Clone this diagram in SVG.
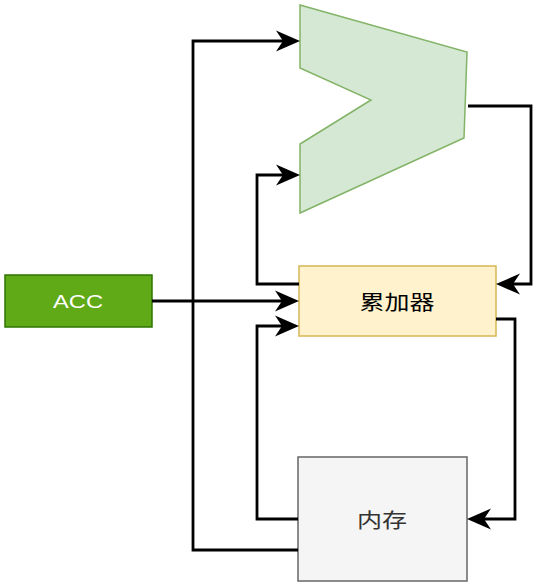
<svg xmlns="http://www.w3.org/2000/svg" width="538" height="583" viewBox="0 0 538 583">
<style>
.edge{fill:none;stroke:#000;stroke-width:2.8;marker-end:url(#arr)}
.cjk{font-family:"Noto Sans CJK SC","Noto Sans",sans-serif;font-size:20px;text-anchor:middle}
</style>
<defs>
<marker id="arr" markerUnits="userSpaceOnUse" markerWidth="26" markerHeight="24" viewBox="0 0 26 24" refX="15" refY="12" orient="auto">
<path d="M1,1.5 L25,12 L1,22.5 L8,12 Z" fill="#000"/>
</marker>
</defs>
<rect width="538" height="583" fill="#fff"/>
<g id="alu">
<polygon points="300,5 467,52 464,138 300,213 300,144 371,100 300,68" fill="#d5e8d4" stroke="#82b366" stroke-width="1.5"/>
</g>
<g id="acc">
<rect x="5" y="275" width="147" height="52" fill="#60a917" stroke="#2d7600" stroke-width="1.5"/>
<text x="78" y="308" font-family="Liberation Sans, Arial, sans-serif" font-size="18" fill="#fff" text-anchor="middle" textLength="50" lengthAdjust="spacingAndGlyphs">ACC</text>
</g>
<g id="accumulator">
<rect x="299" y="266" width="197" height="70" fill="#fff2cc" stroke="#d6b656" stroke-width="1.5"/>
<text class="cjk" x="397" y="310" fill="#000" textLength="75" lengthAdjust="spacingAndGlyphs">累加器</text>
</g>
<g id="memory">
<rect x="298" y="457" width="169" height="124" fill="#f5f5f5" stroke="#666666" stroke-width="1.5"/>
<text class="cjk" x="382" y="528" fill="#333333" textLength="50" lengthAdjust="spacingAndGlyphs">内存</text>
</g>
<g id="connectors">
<path class="edge" d="M298,550 H193 V41 H290"/>
<path class="edge" d="M299,284 H257 V175 H290"/>
<path class="edge" d="M468,106 H531 V284 H506"/>
<path class="edge" d="M152,301 H289"/>
<path class="edge" d="M298,519 H257 V326 H289"/>
<path class="edge" d="M496,319 H515 V519 H477"/>
</g>
</svg>
